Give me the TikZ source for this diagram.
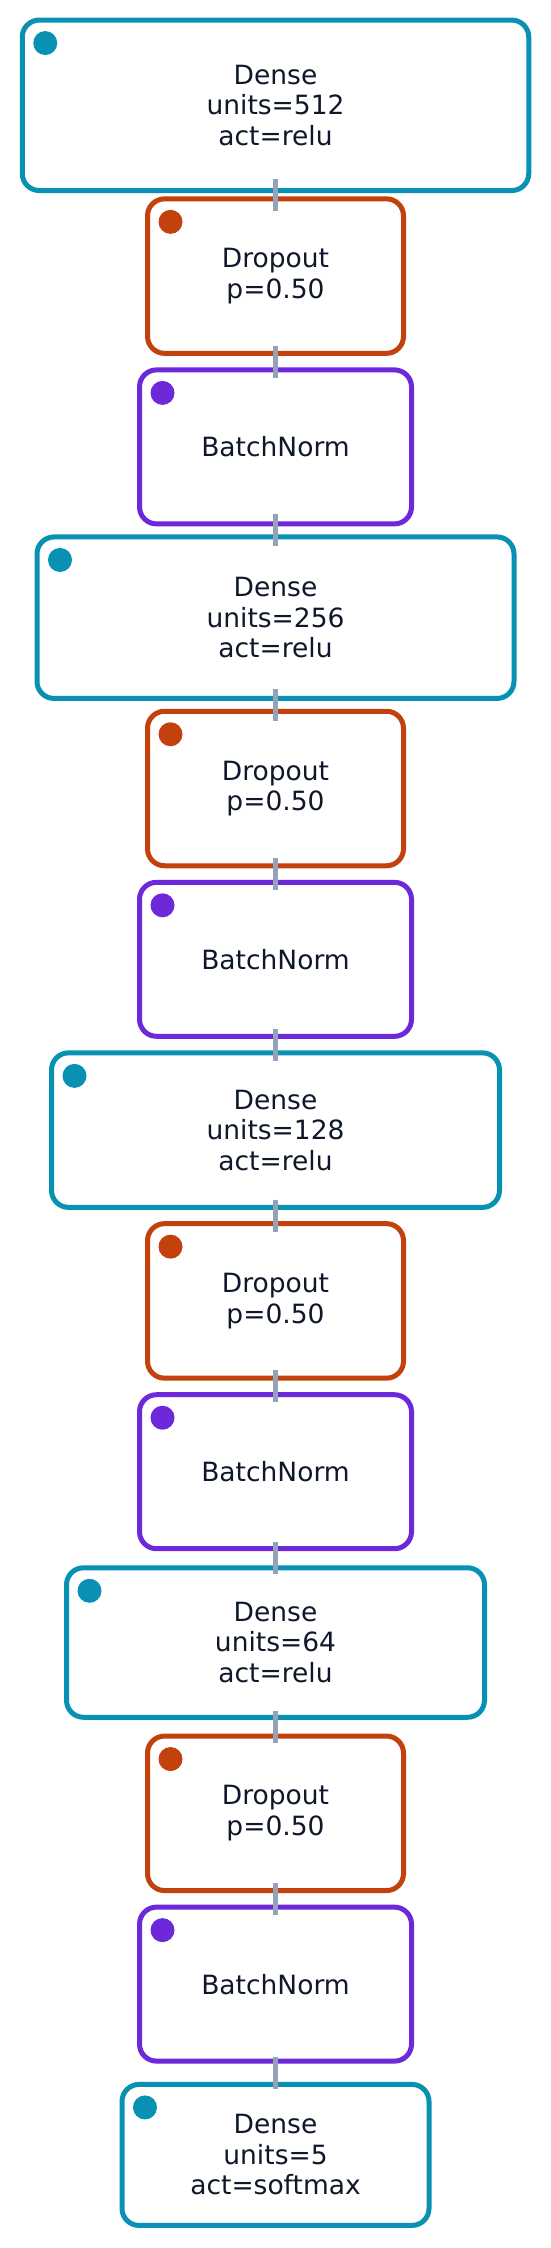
\documentclass[tikz,border=0pt]{standalone}
\usepackage{fontspec}
\setmainfont{DejaVu Sans}
\usetikzlibrary{calc}
\definecolor{cdense}{HTML}{0891B2}
\definecolor{cdrop}{HTML}{C2410C}
\definecolor{cbn}{HTML}{6D28D9}
\definecolor{cconn}{HTML}{94A3B8}
\definecolor{ctext}{HTML}{0F172A}
\tikzset{
  layer/.style={draw=#1, line width=5pt, rounded corners=17pt, fill=white,
    outer sep=0pt, inner sep=0pt, align=center, text=ctext,
    font=\fontsize{26.5}{30.5}\selectfont},
  conn/.style={draw=cconn, line width=5pt},
}
\newcommand\mylayer[7]{%
  \node[layer=#5, minimum width=#3, minimum height=#4] (#1) at (275.5,#2) {#6};
  \fill[#5] ($(#1.north west)+(23pt,-23pt)$) circle[radius=12pt];
}
\begin{document}
\begin{tikzpicture}[x=1pt,y=-1pt]
\useasboundingbox (0,0) rectangle (550,2248);
\fill[white] (0,0) rectangle (550,2248);
\mylayer{d1}{105.3}{506.5pt}{170.5pt}{cdense}{Dense\\units=512\\act=relu}{}
\mylayer{p1}{276.1}{256pt}{154.5pt}{cdrop}{Dropout\\p=0.50}{}
\mylayer{b1}{446.9}{272pt}{154pt}{cbn}{BatchNorm}{}
\mylayer{d2}{617.7}{477pt}{161.5pt}{cdense}{Dense\\units=256\\act=relu}{}
\mylayer{p2}{788.5}{256pt}{154.5pt}{cdrop}{Dropout\\p=0.50}{}
\mylayer{b2}{959.3}{272pt}{154pt}{cbn}{BatchNorm}{}
\mylayer{d3}{1130.1}{448pt}{154.5pt}{cdense}{Dense\\units=128\\act=relu}{}
\mylayer{p3}{1300.9}{256pt}{154.5pt}{cdrop}{Dropout\\p=0.50}{}
\mylayer{b3}{1471.7}{272pt}{154pt}{cbn}{BatchNorm}{}
\mylayer{d4}{1642.5}{418pt}{149.5pt}{cdense}{Dense\\units=64\\act=relu}{}
\mylayer{p4}{1813.3}{256pt}{154.5pt}{cdrop}{Dropout\\p=0.50}{}
\mylayer{b4}{1984.1}{272pt}{154pt}{cbn}{BatchNorm}{}
\mylayer{d5}{2154.9}{307pt}{141pt}{cdense}{Dense\\units=5\\act=softmax}{}
\foreach \a/\b in {d1/p1,p1/b1,b1/d2,d2/p2,p2/b2,b2/d3,d3/p3,p3/b3,b3/d4,d4/p4,p4/b4,b4/d5}{
  \draw[conn] ($(\a.south)!.5!(\b.north)+(0,16pt)$) -- ($(\a.south)!.5!(\b.north)-(0,16pt)$);
}
\end{tikzpicture}
\end{document}
